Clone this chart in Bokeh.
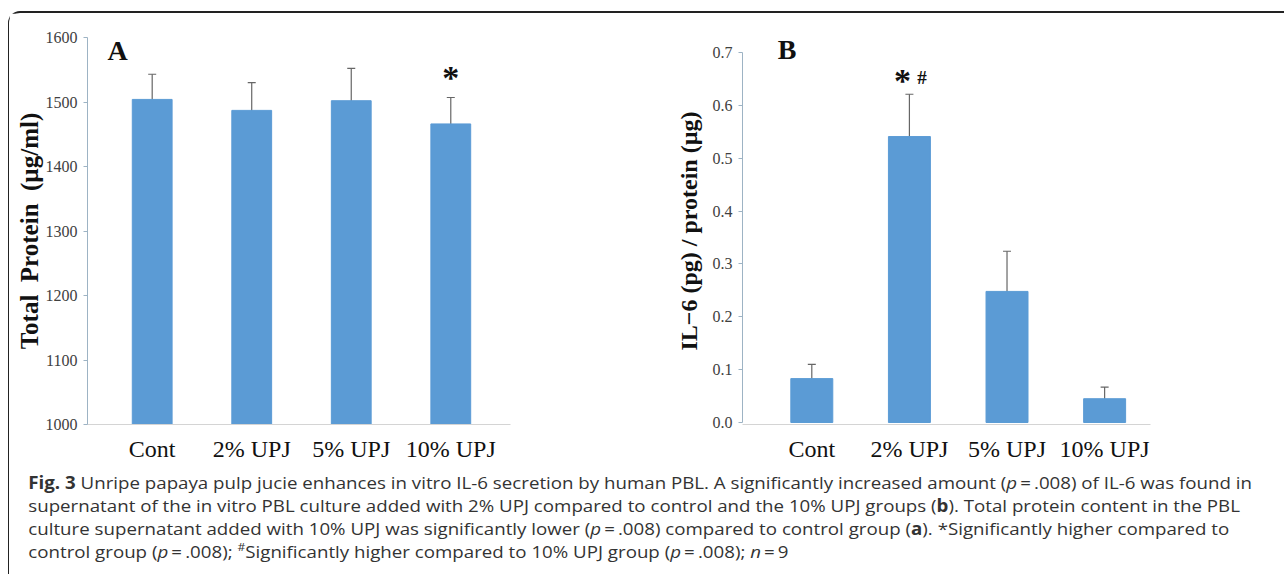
from bokeh.plotting import figure
from bokeh.models import Range1d, ColumnDataSource, Whisker, TeeHead, Label, FixedTicker, PrintfTickFormatter, Div
from bokeh.layouts import row, column
from bokeh.embed import file_html
from bokeh.resources import INLINE

# ---- data ----
categories = ["Cont", "2% UPJ", "5% UPJ", "10% UPJ"]
protein_mean = [1504, 1487, 1502, 1466]
protein_err = [39, 43, 50, 41]
il6_mean = [0.083, 0.541, 0.248, 0.045]
il6_err = [0.027, 0.080, 0.076, 0.022]
protein_ticks = [1000, 1100, 1200, 1300, 1400, 1500, 1600]
il6_ticks = [0.0, 0.1, 0.2, 0.3, 0.4, 0.5, 0.6, 0.7]

BAR = "#5b9bd5"
SERIF = "Liberation Serif"


def style(p, ticks):
    p.grid.visible = False
    p.outline_line_color = None
    p.background_fill_color = "white"
    p.xaxis.ticker = FixedTicker(ticks=list(range(len(categories))))
    p.xaxis.major_label_overrides = {i: c for i, c in enumerate(categories)}
    p.xaxis.major_tick_line_color = None
    p.xaxis.minor_tick_line_color = None
    p.xaxis.axis_line_color = "#d4d4d4"
    p.xaxis.major_label_text_font = SERIF
    p.xaxis.major_label_text_font_size = "24px"
    p.xaxis.major_label_text_color = "#111111"
    p.xaxis.major_label_standoff = 5
    p.yaxis.ticker = FixedTicker(ticks=ticks)
    p.yaxis.bounds = (ticks[0], ticks[-1])
    p.yaxis.minor_tick_line_color = None
    p.yaxis.axis_line_color = "#9db3c4"
    p.yaxis.major_tick_line_color = "#9db3c4"
    p.yaxis.major_tick_in = 0
    p.yaxis.major_tick_out = 4
    p.yaxis.major_label_text_font = SERIF
    p.yaxis.major_label_text_font_size = "16px"
    p.yaxis.major_label_text_color = "#404040"
    p.yaxis.major_label_standoff = 6
    p.yaxis.axis_label_text_font = SERIF
    p.yaxis.axis_label_text_font_style = "bold"
    p.yaxis.axis_label_text_color = "#111111"


def bars(p, means, errs, base, width, head):
    xs = list(range(len(categories)))
    src = ColumnDataSource(dict(
        x=xs, top=means,
        upper=[m + e for m, e in zip(means, errs)],
        lower=[m - e for m, e in zip(means, errs)],
    ))
    p.vbar(x="x", top="top", bottom=base, width=width, source=src,
           fill_color=BAR, line_color=BAR)
    w = Whisker(base="x", upper="upper", lower="lower", source=src,
                line_color="#666666", line_width=1.2,
                upper_head=TeeHead(size=head, line_color="#666666", line_width=1.2),
                lower_head=TeeHead(size=head, line_color="#666666", line_width=1.2))
    p.add_layout(w)


H = 453
# ---- Panel A ----
pA = figure(width=631, height=H, x_range=Range1d(-0.65, 3.6), y_range=Range1d(1000, 1600),
            output_backend="svg", toolbar_location=None,
            min_border_left=78, min_border_right=130, min_border_top=24, min_border_bottom=42)
style(pA, protein_ticks)
pA.yaxis.axis_label = "Total\u00a0\u00a0Protein\u00a0\u00a0(µg/ml)"
pA.yaxis.axis_label_text_font_size = "25px"
pA.yaxis.axis_label_standoff = 0
bars(pA, protein_mean, protein_err, protein_ticks[0], 0.40, 8)
pA.add_layout(Label(x=-0.45, y=1556, text="A", text_font=SERIF, text_font_style="bold",
                    text_font_size="28px", text_color="#111111"))
pA.add_layout(Label(x=3, y=1510, text="*", text_font=SERIF, text_font_style="bold",
                    text_font_size="34px", text_color="#111111", text_align="center"))

# ---- Panel B ----
pB = figure(width=643, height=H, x_range=Range1d(-0.71, 3.47), y_range=Range1d(-0.0038, 0.7284),
            output_backend="svg", toolbar_location=None,
            min_border_left=102, min_border_right=133, min_border_top=24, min_border_bottom=42)
style(pB, il6_ticks)
pB.yaxis.formatter = PrintfTickFormatter(format="%.1f")
pB.yaxis.axis_label = "IL−6 (pg) / protein (µg)"
pB.yaxis.axis_label_text_font_size = "24px"
pB.yaxis.axis_label_standoff = 8
bars(pB, il6_mean, il6_err, il6_ticks[0], 0.43, 8)
pB.add_layout(Label(x=-0.35, y=0.677, text="B", text_font=SERIF, text_font_style="bold",
                    text_font_size="28px", text_color="#111111"))
pB.add_layout(Label(x=0.93, y=0.612, text="*", text_font=SERIF, text_font_style="bold",
                    text_font_size="34px", text_color="#111111", text_align="center"))
pB.add_layout(Label(x=1.13, y=0.633, text="#", text_font=SERIF, text_font_style="bold",
                    text_font_size="19px", text_color="#111111", text_align="center"))

caption_html = (
    "<div style=\"transform:scaleX(1.1);transform-origin:0 0;white-space:nowrap;"
    "font-family:'Open Sans',sans-serif;font-size:17px;line-height:23px;color:#333333;padding-left:13px;\">"
    "<b>Fig. 3</b> Unripe papaya pulp jucie enhances in vitro IL-6 secretion by human PBL. "
    "A significantly increased amount (<i>p</i>&#8201;=&#8201;.008) of IL-6 was found in<br>"
    "supernatant of the in vitro PBL culture added with 2% UPJ compared to control and the 10% UPJ groups (<b>b</b>). "
    "Total protein content in the PBL<br>"
    "culture supernatant added with 10% UPJ was significantly lower (<i>p</i>&#8201;=&#8201;.008) "
    "compared to control group (<b>a</b>). *Significantly higher compared to<br>"
    "control group (<i>p</i>&#8201;=&#8201;.008); <sup style=\"font-size:11px;line-height:0\">#</sup>Significantly higher "
    "compared to 10% UPJ group (<i>p</i>&#8201;=&#8201;.008); <i>n</i>&#8201;=&#8201;9"
    "</div>"
)
caption = Div(text=caption_html, width=1274, height=98)

layout = column(row(pA, pB), caption,
                styles={"border-top": "2px solid #222222", "border-left": "1.5px solid #222222",
                        "border-top-left-radius": "12px", "margin-top": "11px", "margin-left": "8px"})

open("out.html", "w").write(file_html(layout, INLINE))
